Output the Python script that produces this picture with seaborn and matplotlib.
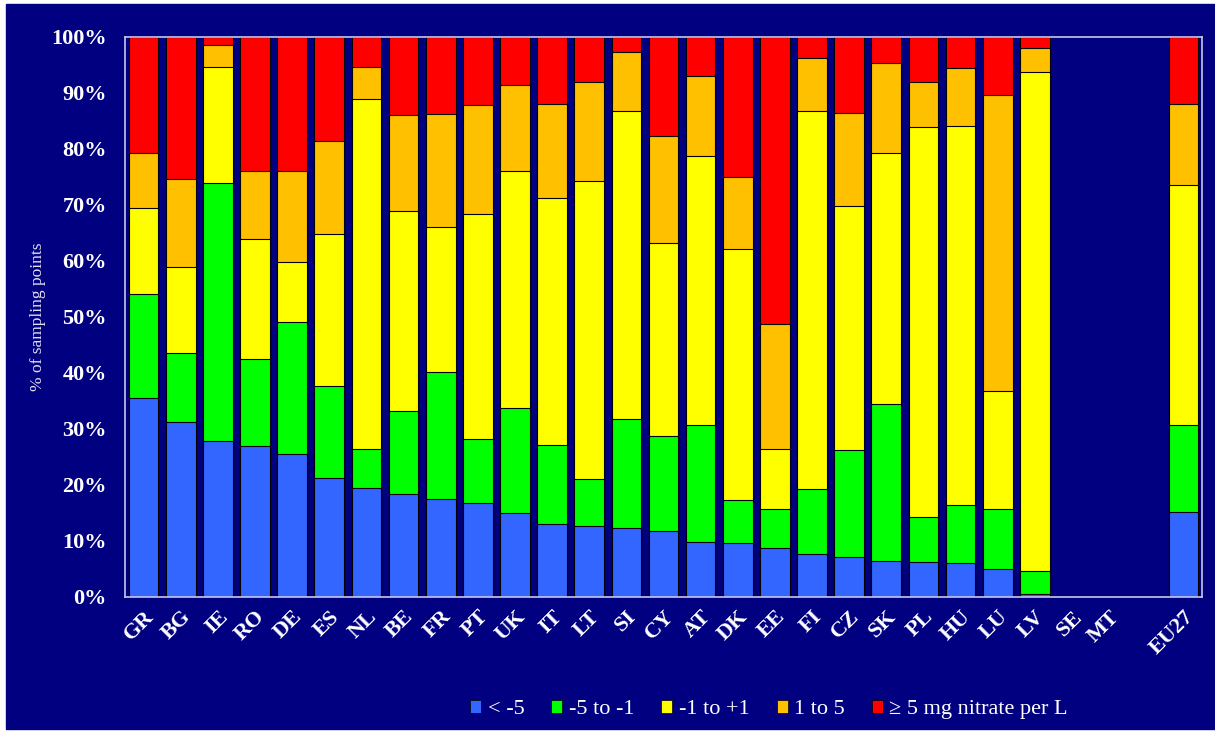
import seaborn as sns
import matplotlib.pyplot as plt
import matplotlib.patches as mpatches
import pandas as pd
import numpy as np

sns.set_style('white')
plt.rcParams['font.family'] = ['Liberation Serif', 'DejaVu Serif']

# Countries in display order (SE and MT have no data; a blank slot precedes EU27)
countries = ['GR', 'BG', 'IE', 'RO', 'DE', 'ES', 'NL', 'BE', 'FR', 'PT', 'UK', 'IT', 'LT',
             'SI', 'CY', 'AT', 'DK', 'EE', 'FI', 'CZ', 'SK', 'PL', 'HU', 'LU', 'LV', 'EU27']
slots = countries[:25] + ['SE', 'MT', ' ', 'EU27']

# Share of sampling points per trend class (%)
lt_minus5 = [35.6, 31.3, 27.8, 26.9, 25.5, 21.2, 19.4, 18.4, 17.5, 16.8, 15.0, 13.1, 12.7,
             12.4, 11.7, 9.9, 9.7, 8.7, 7.6, 7.2, 6.5, 6.2, 6.0, 5.0, 0.6, 15.1]
m5_to_m1 = [18.5, 12.2, 46.2, 15.6, 23.6, 16.4, 7.1, 14.9, 22.6, 11.5, 18.8, 14.1, 8.4,
            19.4, 17.0, 20.9, 7.6, 7.0, 11.7, 19.1, 28.0, 8.1, 10.4, 10.8, 4.1, 15.6]
m1_to_p1 = [15.3, 15.5, 20.7, 21.5, 10.8, 27.2, 62.5, 35.7, 25.9, 40.1, 42.2, 44.1, 53.1,
            55.0, 34.6, 48.0, 44.9, 10.8, 67.5, 43.6, 44.8, 69.6, 67.7, 21.0, 89.0, 42.8]
p1_to_p5 = [9.9, 15.7, 3.9, 12.1, 16.2, 16.6, 5.6, 17.1, 20.2, 19.4, 15.4, 16.8, 17.8,
            10.5, 19.1, 14.3, 12.8, 22.3, 9.4, 16.6, 16.0, 8.0, 10.4, 52.9, 4.4, 14.6]
ge5 = [100 - a - b - c - d for a, b, c, d in zip(lt_minus5, m5_to_m1, m1_to_p1, p1_to_p5)]

class_labels = ['< -5', '-5 to -1', '-1 to +1', '1 to 5', '\u2265 5 mg nitrate per L']
class_colors = ['#3366FF', '#00FF00', '#FFFF00', '#FFC000', '#FF0000']

df = pd.DataFrame({'Country': countries, 'c1': lt_minus5, 'c2': m5_to_m1,
                   'c3': m1_to_p1, 'c4': p1_to_p5, 'c5': ge5})
cols = ['c1', 'c2', 'c3', 'c4', 'c5']
cum = df[cols].cumsum(axis=1)
cum['Country'] = df['Country']

navy = '#000080'
light = '#C8C8E8'

fig = plt.figure(figsize=(12.15, 7.33), dpi=100, facecolor='white')
bg = mpatches.Rectangle((6 / 1215, 4 / 733), 1 - 6 / 1215, 1 - 8 / 733,
                        transform=fig.transFigure, color=navy, zorder=-10)
fig.patches.append(bg)
ax = fig.add_axes([125 / 1215, 136 / 733, 1077 / 1215, 560 / 733])
ax.set_facecolor(navy)

# Stacked bars: draw cumulative totals from the top class down
for col, color in reversed(list(zip(cols, class_colors))):
    sns.barplot(data=cum, x='Country', y=col, order=slots, color=color,
                saturation=1, width=0.8, edgecolor='black', linewidth=0.8, ax=ax)

ax.set_ylim(0, 100)
ax.set_xlim(-0.5, len(slots) - 0.5)
ax.set_yticks(np.arange(0, 101, 10))
ax.set_yticklabels([f'{v}%' for v in range(0, 101, 10)], fontsize=16,
                   fontweight='bold', color='white')
ax.set_xticks(range(len(slots)))
ax.set_xticklabels(slots, rotation=45, ha='right', rotation_mode='anchor',
                   fontsize=16, fontweight='bold', color='white')
ax.set_xticks(np.arange(-0.5, len(slots)), minor=True)
ax.tick_params(axis='x', which='major', length=0, pad=7)
ax.tick_params(axis='x', which='minor', length=5, color=light, direction='out')
ax.tick_params(axis='y', length=6, color=light, direction='out', pad=7)
ax.set_xlabel('')
ax.set_ylabel('% of sampling points', fontsize=12.5, color='#E0E0F0', labelpad=4)

for side in ['left', 'bottom', 'top', 'right']:
    ax.spines[side].set_visible(True)
    ax.spines[side].set_color(light)
    ax.spines[side].set_linewidth(1.2)

handles = [mpatches.Patch(facecolor=c, edgecolor='black', linewidth=0.5, label=l)
           for c, l in zip(class_colors, class_labels)]
leg = fig.legend(handles=handles, loc='center', bbox_to_anchor=(0.633, 0.032), ncol=5,
                 frameon=False, fontsize=16, handlelength=0.5, handleheight=0.5,
                 handletextpad=0.3, columnspacing=1.2)
for t in leg.get_texts():
    t.set_color('white')

fig.savefig('out.png', dpi=100, facecolor=fig.get_facecolor())
plt.close(fig)
